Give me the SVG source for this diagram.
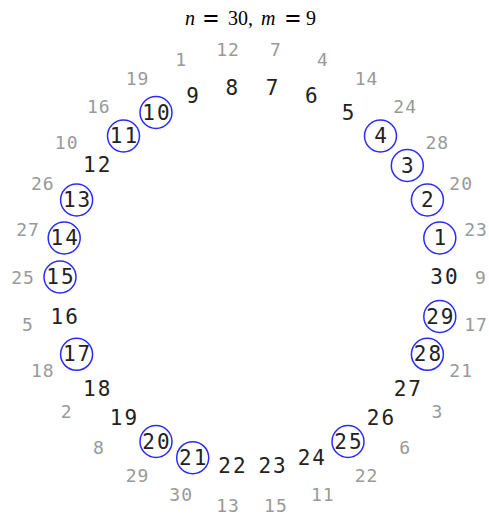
<svg xmlns="http://www.w3.org/2000/svg" width="489" height="514" viewBox="0 0 489 514">
<style>
.in{font-family:"DejaVu Sans Mono","Liberation Mono",monospace;font-size:21px;letter-spacing:2px;fill:#222;text-anchor:middle;dominant-baseline:central}
.out{font-family:"DejaVu Sans Mono","Liberation Mono",monospace;font-size:18px;letter-spacing:1px;fill:#999;text-anchor:middle;dominant-baseline:central}
.ring{fill:none;stroke:#2a2aff;stroke-width:1.5}
.title{font-family:"Liberation Serif",serif;font-size:20px;fill:#000}
.eq{font-size:28px;font-weight:bold}
</style>
<rect width="489" height="514" fill="#fff"/>
<text class="title" y="25"><tspan x="185" font-style="italic">n</tspan><tspan x="203" class="eq" dy="3">=</tspan><tspan x="228" dy="-3">30,</tspan><tspan x="261" font-style="italic">m</tspan><tspan x="285" class="eq" dy="3">=</tspan><tspan x="306" dy="-3">9</tspan></text>
<g id="connectors"/>
<g id="p1"><circle class="ring" cx="439.8" cy="238" r="16"/><text class="in" x="440.8" y="238">1</text><text class="out" x="476" y="229.4">23</text></g>
<g id="p2"><circle class="ring" cx="427.4" cy="200" r="16"/><text class="in" x="428.4" y="200">2</text><text class="out" x="461.2" y="183.9">20</text></g>
<g id="p3"><circle class="ring" cx="407.3" cy="165.5" r="16"/><text class="in" x="408.3" y="165.5">3</text><text class="out" x="437.3" y="142.4">28</text></g>
<g id="p4"><circle class="ring" cx="380.5" cy="136" r="16"/><text class="in" x="381.5" y="136">4</text><text class="out" x="405.2" y="106.8">24</text></g>
<g id="p5"><text class="in" x="349" y="112.5">5</text><text class="out" x="366.5" y="78.7">14</text></g>
<g id="p6"><text class="in" x="312.3" y="96.3">6</text><text class="out" x="322.8" y="59.2">4</text></g>
<g id="p7"><text class="in" x="273.1" y="88">7</text><text class="out" x="275.9" y="49.3">7</text></g>
<g id="p8"><text class="in" x="232.9" y="88">8</text><text class="out" x="228.1" y="49.3">12</text></g>
<g id="p9"><text class="in" x="193.7" y="96.3">9</text><text class="out" x="181.2" y="59.2">1</text></g>
<g id="p10"><circle class="ring" cx="156" cy="112.5" r="16"/><text class="in" x="157" y="112.5">10</text><text class="out" x="137.5" y="78.7">19</text></g>
<g id="p11"><circle class="ring" cx="123.5" cy="136" r="16"/><text class="in" x="124.5" y="136">11</text><text class="out" x="98.8" y="106.8">16</text></g>
<g id="p12"><text class="in" x="97.7" y="165.3">12</text><text class="out" x="66.7" y="142.4">10</text></g>
<g id="p13"><circle class="ring" cx="76.6" cy="200" r="16"/><text class="in" x="77.6" y="200">13</text><text class="out" x="42.8" y="183.9">26</text></g>
<g id="p14"><circle class="ring" cx="64.2" cy="238" r="16"/><text class="in" x="65.2" y="238">14</text><text class="out" x="28" y="229.4">27</text></g>
<g id="p15"><circle class="ring" cx="60" cy="277" r="16"/><text class="in" x="61" y="277">15</text><text class="out" x="23" y="277">25</text></g>
<g id="p16"><text class="in" x="65.2" y="316.5">16</text><text class="out" x="28" y="324.6">5</text></g>
<g id="p17"><circle class="ring" cx="76.6" cy="354.3" r="16"/><text class="in" x="77.6" y="354.3">17</text><text class="out" x="42.8" y="370.1">18</text></g>
<g id="p18"><text class="in" x="97.7" y="388.7">18</text><text class="out" x="66.7" y="411.6">2</text></g>
<g id="p19"><text class="in" x="124.5" y="418.2">19</text><text class="out" x="98.8" y="447.2">8</text></g>
<g id="p20"><circle class="ring" cx="156" cy="441.5" r="16"/><text class="in" x="157" y="441.5">20</text><text class="out" x="137.5" y="475.3">29</text></g>
<g id="p21"><circle class="ring" cx="192.7" cy="457.7" r="16"/><text class="in" x="193.7" y="457.7">21</text><text class="out" x="181.2" y="494.8">30</text></g>
<g id="p22"><text class="in" x="232.9" y="466">22</text><text class="out" x="228.1" y="505">13</text></g>
<g id="p23"><text class="in" x="273.1" y="466">23</text><text class="out" x="275.9" y="505">15</text></g>
<g id="p24"><text class="in" x="312.3" y="457.7">24</text><text class="out" x="322.8" y="494.8">11</text></g>
<g id="p25"><circle class="ring" cx="348" cy="441.5" r="16"/><text class="in" x="349" y="441.5">25</text><text class="out" x="366.5" y="475.3">22</text></g>
<g id="p26"><text class="in" x="381.5" y="418.2">26</text><text class="out" x="405.2" y="447.2">6</text></g>
<g id="p27"><text class="in" x="408.3" y="388.7">27</text><text class="out" x="437.3" y="411.6">3</text></g>
<g id="p28"><circle class="ring" cx="427.4" cy="354.3" r="16"/><text class="in" x="428.4" y="354.3">28</text><text class="out" x="461.2" y="370.1">21</text></g>
<g id="p29"><circle class="ring" cx="439.8" cy="316.5" r="16"/><text class="in" x="440.8" y="316.5">29</text><text class="out" x="476" y="324.6">17</text></g>
<g id="p30"><text class="in" x="445" y="277">30</text><text class="out" x="481" y="277">9</text></g>
</svg>
